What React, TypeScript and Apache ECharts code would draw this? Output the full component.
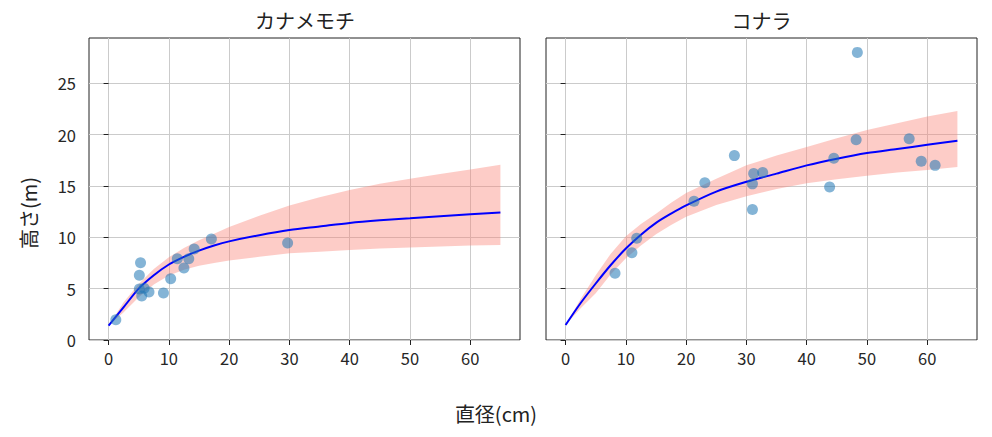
import React, { useEffect, useRef } from "react";
import * as echarts from "echarts";

// ---- data ----
const titles = ["カナメモチ", "コナラ"];
const xTicks = [0, 10, 20, 30, 40, 50, 60];
const yTicks = [0, 5, 10, 15, 20, 25];

// カナメモチ observations
const kanaX = [1.2, 5.3, 5.1, 5.1, 5.5, 5.9, 6.7, 9.1, 10.3, 11.4, 12.5, 13.3, 14.2, 17.05, 29.7];
const kanaY = [1.98, 7.53, 6.3, 4.97, 4.29, 5.03, 4.68, 4.58, 5.97, 7.9, 7.0, 7.9, 8.86, 9.84, 9.45];

// コナラ observations
const konaX = [8.2, 11.0, 11.8, 21.3, 23.1, 28.0, 31.0, 31.0, 31.2, 32.7, 43.8, 44.5, 48.2, 48.4, 57.0, 59.0, 61.3];
const konaY = [6.5, 8.5, 9.9, 13.5, 15.3, 17.95, 12.7, 15.2, 16.2, 16.3, 14.9, 17.7, 19.5, 28.0, 19.6, 17.4, 17.0];

// fitted curves and bands (read at these x)
const fitX = [0, 2.5, 5, 7.5, 10, 12.5, 15, 17.5, 20, 25, 30, 35, 40, 45, 50, 55, 60, 65];
const kanaFit = [1.4, 3.2, 5.0, 6.3, 7.35, 8.1, 8.7, 9.2, 9.6, 10.2, 10.7, 11.05, 11.4, 11.65, 11.85, 12.05, 12.25, 12.42];
const kanaUpper = [1.4, 3.67, 5.45, 6.9, 8.05, 8.95, 9.7, 10.35, 11.0, 12.1, 13.1, 13.9, 14.6, 15.2, 15.7, 16.15, 16.6, 17.05];
const kanaLower = [1.4, 2.7, 4.16, 5.4, 6.27, 6.85, 7.24, 7.5, 7.73, 8.1, 8.44, 8.6, 8.77, 8.9, 9.0, 9.1, 9.2, 9.25];

const konaFit = [1.46, 3.6, 5.5, 7.3, 8.9, 10.25, 11.4, 12.3, 13.1, 14.45, 15.4, 16.2, 17.0, 17.65, 18.2, 18.6, 19.0, 19.4];
const konaUpper = [1.46, 4.0, 6.3, 8.4, 10.1, 11.3, 12.3, 13.35, 14.3, 15.7, 17.0, 17.95, 18.8, 19.65, 20.45, 21.1, 21.75, 22.3];
const konaLower = [1.46, 3.1, 4.55, 6.4, 7.95, 9.2, 10.3, 11.2, 12.0, 13.15, 14.0, 14.7, 15.26, 15.65, 16.0, 16.3, 16.56, 16.85];

const X_MIN = -3.25;
const X_MAX = 68.25;
const Y_MIN = 0;
const Y_MAX = 29.4;

const FONT = '"Noto Sans CJK JP", "DejaVu Sans", sans-serif';

export default function App() {
  const ref = useRef<HTMLDivElement>(null);

  useEffect(() => {
    if (!ref.current) return;
    const chart = echarts.init(ref.current, undefined, { renderer: "svg" });

    const pairs = (xs: number[], ys: number[]) => xs.map((x, i) => [x, ys[i]]);

    const panels = [
      { obsX: kanaX, obsY: kanaY, fit: kanaFit, upper: kanaUpper, lower: kanaLower },
      { obsX: konaX, obsY: konaY, fit: konaFit, upper: konaUpper, lower: konaLower },
    ];

    const grids = [
      { left: 89, top: 38, width: 431, height: 302 },
      { left: 546, top: 38, width: 431, height: 302 },
    ].map((g) => ({ ...g, show: true, borderColor: "#222", borderWidth: 1, backgroundColor: "transparent" }));

    const xAxes = grids.map((_, i) => ({
      type: "value",
      gridIndex: i,
      min: X_MIN,
      max: X_MAX,
      axisLine: { show: false },
      axisTick: { show: true, length: 5, lineStyle: { color: "#222", width: 1 }, customValues: xTicks },
      axisLabel: { customValues: xTicks, color: "#262626", fontSize: 16.5, fontFamily: FONT, margin: 10 },
      splitLine: { show: true, lineStyle: { color: "#cbcbcb", width: 1 } },
    }));

    const yAxes = grids.map((_, i) => ({
      type: "value",
      gridIndex: i,
      min: Y_MIN,
      max: Y_MAX,
      axisLine: { show: false },
      axisTick: { show: true, length: 5, lineStyle: { color: "#222", width: 1 }, customValues: yTicks },
      axisLabel: {
        show: i === 0,
        customValues: yTicks,
        color: "#262626",
        fontSize: 16.5,
        fontFamily: FONT,
        margin: 13,
      },
      splitLine: { show: true, lineStyle: { color: "#cbcbcb", width: 1 } },
    }));

    const series: any[] = [];
    panels.forEach((p, i) => {
      series.push({
        type: "custom",
        xAxisIndex: i,
        yAxisIndex: i,
        silent: true,
        z: 1,
        clip: true,
        data: fitX.map((x, k) => [x, p.lower[k], p.upper[k]]),
        encode: { x: 0, y: [1, 2] },
        renderItem: (params: any, api: any) => {
          if (params.dataIndex !== 0) return null;
          const top = fitX.map((x, k) => api.coord([x, p.upper[k]]));
          const bottom = fitX.map((x, k) => api.coord([x, p.lower[k]])).reverse();
          return {
            type: "polygon",
            shape: { points: top.concat(bottom) },
            style: { fill: "rgba(250,128,114,0.4)", stroke: "none" },
          };
        },
      });
      series.push({
        type: "line",
        xAxisIndex: i,
        yAxisIndex: i,
        data: pairs(fitX, p.fit),
        symbol: "none",
        smooth: 0.3,
        lineStyle: { color: "#0000ff", width: 2 },
        z: 3,
      });
      series.push({
        type: "scatter",
        xAxisIndex: i,
        yAxisIndex: i,
        data: pairs(p.obsX, p.obsY),
        symbolSize: 11,
        itemStyle: { color: "#1f77b4", opacity: 0.55 },
        z: 4,
      });
    });

    chart.setOption({
      animation: false,
      backgroundColor: "#ffffff",
      grid: grids,
      xAxis: xAxes,
      yAxis: yAxes,
      series,
      graphic: [
        {
          type: "text",
          x: 305,
          y: 20,
          style: { text: titles[0], font: `20px ${FONT}`, fill: "#222", align: "center", verticalAlign: "middle" },
        },
        {
          type: "text",
          x: 761.5,
          y: 20,
          style: { text: titles[1], font: `20px ${FONT}`, fill: "#222", align: "center", verticalAlign: "middle" },
        },
        {
          type: "text",
          x: 496,
          y: 413,
          style: { text: "直径(cm)", font: `20px ${FONT}`, fill: "#222", align: "center", verticalAlign: "middle" },
        },
        {
          type: "text",
          x: 28,
          y: 213,
          rotation: Math.PI / 2,
          style: { text: "高さ(m)", font: `20px ${FONT}`, fill: "#222", align: "center", verticalAlign: "middle" },
        },
      ],
    });

    return () => chart.dispose();
  }, []);

  return (
    <div
      ref={ref}
      style={{ position: "fixed", left: 0, top: 0, width: 992, height: 437, background: "#fff" }}
    />
  );
}
